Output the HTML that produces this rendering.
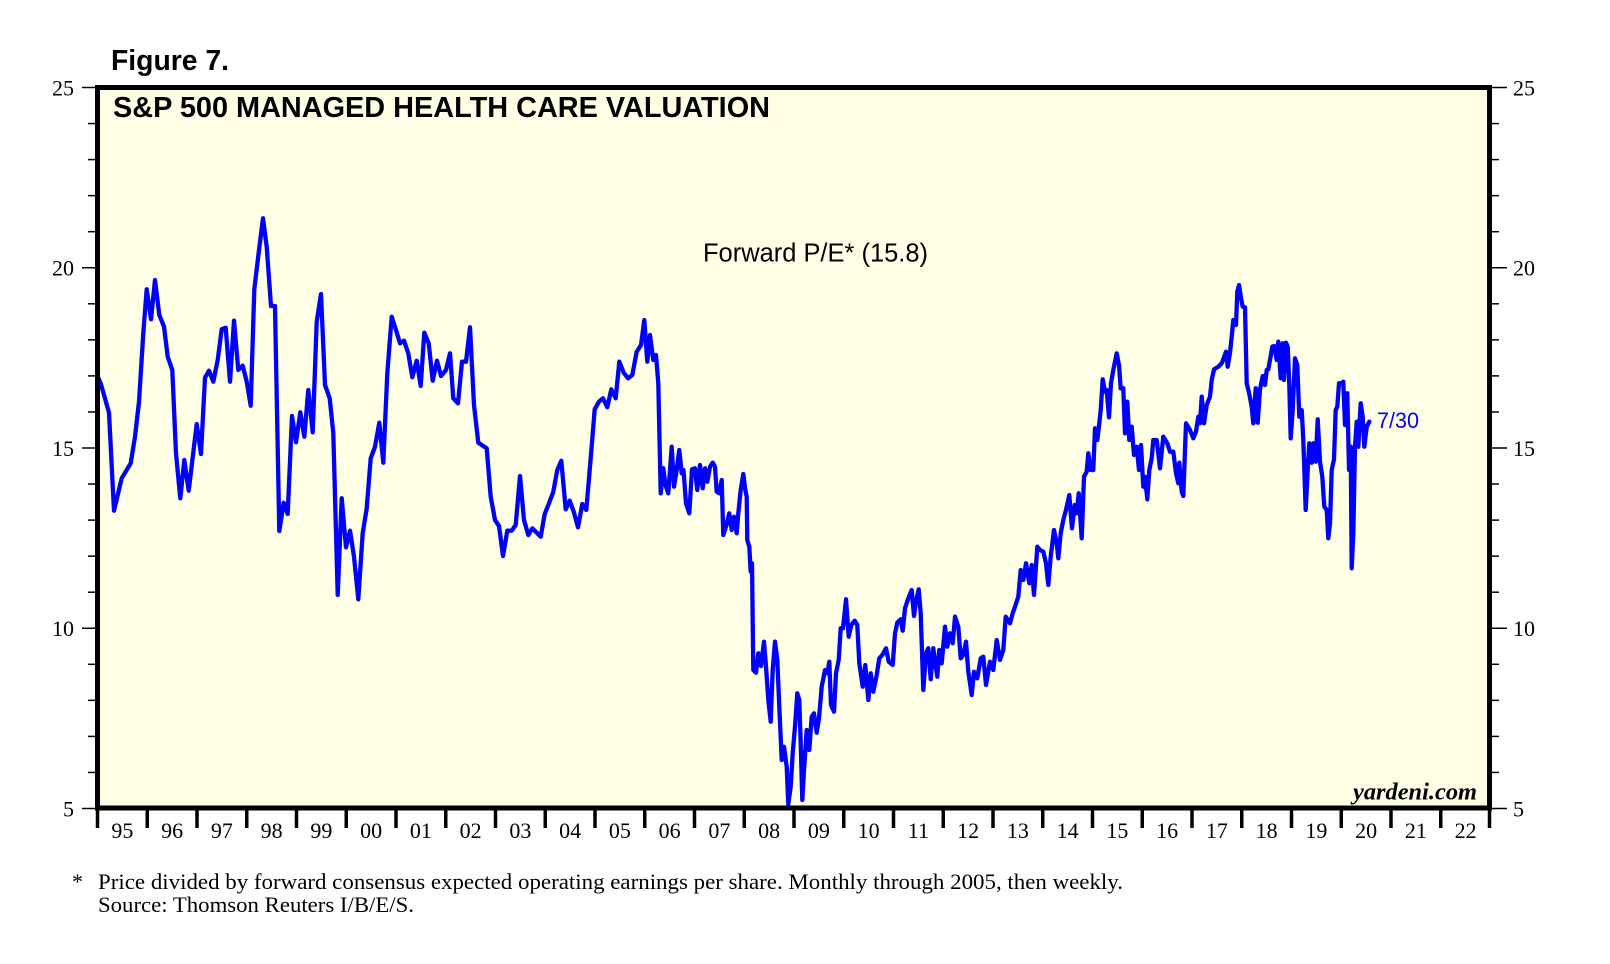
<!DOCTYPE html>
<html>
<head>
<meta charset="utf-8">
<style>
  html,body{margin:0;padding:0;background:#fff;}
  svg{display:block;}
  .ax{font-family:"Liberation Serif","Times New Roman",serif;font-size:22px;fill:#000;}
</style>
</head>
<body>
<svg width="1610" height="964" viewBox="0 0 1610 964" xmlns="http://www.w3.org/2000/svg">
  <rect x="0" y="0" width="1610" height="964" fill="#ffffff"/>
  <!-- Figure label -->
  <text x="111" y="70" font-family="Liberation Sans, Arial, sans-serif" font-weight="bold" font-size="29" textLength="118" lengthAdjust="spacingAndGlyphs">Figure 7.</text>

  <!-- plot background -->
  <rect x="97.5" y="87.5" width="1392" height="720.5" fill="#FFFFE6"/>

  <!-- title -->
  <text x="113" y="117" font-family="Liberation Sans, Arial, sans-serif" font-weight="bold" font-size="28.5" textLength="657" lengthAdjust="spacingAndGlyphs">S&amp;P 500 MANAGED HEALTH CARE VALUATION</text>

  <!-- Forward P/E label -->
  <text x="703" y="261.5" font-family="Liberation Sans, Arial, sans-serif" font-size="25.5" textLength="225" lengthAdjust="spacingAndGlyphs">Forward P/E* (15.8)</text>

  <!-- data line -->
  <polyline fill="none" stroke="#0000FF" stroke-width="4.3" stroke-linejoin="round" stroke-linecap="round" points="
97.5,376 101,384.3 109,412.7 114,510.7 121.7,478.3 130.7,463.3 135,436.7 139,401.7 143.3,333.3 146.7,289.3 151,319.3 155,280 159.3,315 164,326.7 167.7,356.7 172.3,370 176,453.3 180.3,498.3 184.3,460 188.7,490.7 196.7,424 201,454 205,377.7 209,370.7 213.3,381.7 217.7,360 221.7,329.3 225.7,327.7 230,381.7 234,320.7 238.3,370 242.7,365.7 246.7,381.7 250.7,405.7 254.3,289.3 259,250 263,218.3 266.7,246.7 271,306 275,306 279.3,531 283.7,502.7 287.7,514 292,416 296,442.3 300.3,412.3 304.3,436.7 308.3,390 312.7,432.3 316.7,321.7 321,294 325,385 329.7,398.3 333.3,433.3 337.7,595 341.7,498.3
346,547.3 350,530.7 354,556.7 358.3,599.3 362.7,533.3 366.7,508.3 370.7,458.3 375,446.7 379.3,422.7 383.3,462.7 387.3,373.3 391.7,316.7 396,330 400,343.3 404,340.7 408.3,353.3 412.3,377.3 416.7,360.7 420.7,386 424.3,332.7 428.7,343.3 432.7,380.7 437,360.7 441,376 446,370 450,353.3 453.3,398.3 458,403.3 462,361.7 466,361.7 470,327.3 474,405 478.3,442.7 486.7,448.3 490.7,496.7 495,520 499,526 503,556 507.3,530.7 511.7,530.7 515.7,525 520,476 524,520 528.3,535 532.3,528.3 540.7,536.7 544.7,514 549,503.3 553.3,491.7 557.3,470 561.3,460.7 565.7,509.3 569.7,500.7 574,512.7 578,527.3 582.3,504 586.3,510 590.7,458.3 594.7,409.3 599,401.7 603,398.3 607.3,407.3 611.3,389.3 615.7,398.3 619.3,361.7 623.7,372.7 628,378.3 632.3,375 636.7,351.7 641,345 644.3,320 647.3,361.7 650,335
653.3,360 656,355 658.3,383.3 660.7,493.3 663.3,468.3 665.5,485 668.3,493.3 671.7,446.7 674,486.7 676.7,470 679.3,450 681.7,473.3 683.5,470 686,503.3 689.3,513.3 692,469.3 695,468.3 697.3,490 700,465 702.7,488.3 705,468.3 707.3,481.7 710,466.7 712.7,462.7 715,466.7 716.7,491.7 719.3,493.3 721.7,480 723.3,535 726,526.7 729.3,513.3 731.7,530 734,516.7 736.7,533.3 738.3,513.3 740.7,490 743.3,474 745.3,490 746.7,496.7 747.3,540 749.3,546.7 750.7,571.7 752,563.3 753.3,670 756,672.7 758.3,653.3 761,666 764,641.7 766,666.7 768.3,700 770.7,721.7 772.7,670 775,641.7 777.3,660 779.3,706.7 781.7,760 784,746.7 786.7,766.7 788.3,804 790.7,786.7 792.7,753.3 795,726.7 797.3,693.3 799.3,700 800.7,743.3 802.3,800 804,770 806.7,730 809.3,750 811.7,716.7 814,713.3 816.7,732.7 819,718.3 821.7,686.7 825,670 827.3,673.3 829.3,661.7 831,705 834,711.7 836,673.3 838.7,660 840.7,628.3 843,628.3 846,599.3 848.7,636.7 851.3,625 854.7,620.7 857.3,625 859.3,663.3 862.7,686.7 865.3,665 868.3,700 870.7,673.3 873.3,691.7 876.7,675 879.3,658.3 882.3,655 886,648.3 888.7,661.7 892.7,665 895,633.3 897.3,622.7 900.7,619.3 902.7,630.7 905,608.3 908.3,598.3 911.7,590 914,616 916,601.7 918.7,589.3 920.7,613.3 923.3,690 926,653.3 928.3,648.3 930.7,679.3 933.3,648.3 937.3,676.7 939.3,650 941.7,663.3
945,626.7 947.3,646.7 950,633.3 952.7,643.3 955,616.7 958.3,626.7 960.7,658.3 963.3,655 966,641.7 968.3,671.7 971.7,695 974,671.7 977.3,678.3 980.7,658.3 983.3,656.7 986,685 990,661.7 993.3,670 996.7,640 1000,660 1003.3,650 1005.7,616.7 1010,623.3 1012.7,613.3 1015,606.7 1018.3,596.7 1020.7,570 1023.3,580 1026,563.3 1029.3,583.3 1031.7,565 1034,595 1037.3,546.7 1040,550 1043.3,551.7 1046,563.3 1048.3,585 1050.7,556.7 1054,530 1056.7,543.3 1058.3,558.3 1060.7,533.3 1063.3,520 1066,510 1069.3,495 1072,528.3 1074.7,505 1076.7,513.3 1078.7,493.3 1081.7,538.3 1084,476.7 1086.7,471.7 1088.3,453.3 1090.7,470 1093.3,470 1095,428.3 1097.3,440 1099.3,423.3 1100.7,410 1102.7,379.3 1105,391.7 1106.7,390 1109,417.3 1111,383.3 1113.3,370 1116.7,353.3 1119,365 1120.7,388.3 1123.3,388.3 1125,433.3 1127.3,401.7 1129.3,440 1131.7,426.7 1134,455 1136.7,446.7 1139,470 1141,445 1143.3,486.7 1145,476.7 1147.3,499.3 1149.3,470 1151.7,458.3 1153.3,440 1156.7,440
1160,468.3 1163.3,436.7 1167.3,443.3 1170,451.7 1173.3,451.7 1176,473.3 1178.3,483.3 1179.3,462.7 1181.7,491.7 1183.3,496 1186,423.3 1190,430 1193.3,438.3 1196,431.7 1198.3,416.7 1200,423.3 1201.7,396.7 1204,423.3 1206.7,405 1210,396.7 1211.7,380 1214,369.3 1218.3,366.7 1221.7,363.3 1224,357.3 1226,351.7 1227.7,366.7 1230,352.7 1231.7,336.7 1233.3,320 1236,325 1237.3,291.7 1239,285 1241,298.3 1242.7,306.7 1245,307.3 1246.7,383.3 1249.3,394 1251.7,406.7 1253.3,423.3 1255.7,388.3 1257.7,422.7 1260,389.3 1262.7,376 1265,385 1266.7,370 1268.3,369.3 1270,360 1272.3,346.7 1274.3,346 1276.7,360 1278.3,341.7 1280.7,378.3 1282.7,343.3 1284,380 1286,342.7 1287.7,346.7 1289.3,385 1290.7,438.3 1292.7,410 1295,358.3 1297.3,365 1299.3,416.7 1301.7,410 1303.3,440 1305.7,510 1307.7,470 1309.3,443.3 1311.7,462.7 1313.3,443.3 1315.7,461.7 1317.7,419.3 1320,461.7 1322.3,476.7 1324.3,506.7 1326.7,510 1328.3,538.3 1330,523.3 1331.7,470 1334,459.3 1335.7,410 1337.3,406.7 1339,383.3 1341.7,383.3 1343.3,381.7 1345,425 1347.3,393.3 1349,470 1350.7,446.7 1351.7,568.3 1353.3,533.3 1355,446.7 1356.7,421.7 1358.3,446.7 1360.7,403.3 1362.7,416.7 1364.3,446.7 1366.7,426.7 1369.3,421.7"/>

  <!-- 7/30 label -->
  <text x="1377" y="428" font-family="Liberation Sans, Arial, sans-serif" font-size="22" fill="#0000FF" textLength="42" lengthAdjust="spacingAndGlyphs">7/30</text>

  <!-- yardeni.com -->
  <text x="1353" y="799.5" font-family="Liberation Serif, Times New Roman, serif" font-style="italic" font-weight="bold" font-size="24" textLength="124" lengthAdjust="spacingAndGlyphs">yardeni.com</text>

  <!-- plot border -->
  <rect x="97.5" y="87.5" width="1392" height="720.5" fill="none" stroke="#000" stroke-width="5"/>

  <!-- left axis ticks -->
  <g stroke="#000" stroke-width="1.5">
    <line x1="82" y1="87.5" x2="97" y2="87.5"/>
    <line x1="88" y1="123.55" x2="97" y2="123.55"/>
    <line x1="88" y1="159.6" x2="97" y2="159.6"/>
    <line x1="88" y1="195.65" x2="97" y2="195.65"/>
    <line x1="88" y1="231.7" x2="97" y2="231.7"/>
    <line x1="82" y1="267.75" x2="97" y2="267.75"/>
    <line x1="88" y1="303.8" x2="97" y2="303.8"/>
    <line x1="88" y1="339.85" x2="97" y2="339.85"/>
    <line x1="88" y1="375.9" x2="97" y2="375.9"/>
    <line x1="88" y1="411.95" x2="97" y2="411.95"/>
    <line x1="82" y1="448" x2="97" y2="448"/>
    <line x1="88" y1="484.05" x2="97" y2="484.05"/>
    <line x1="88" y1="520.1" x2="97" y2="520.1"/>
    <line x1="88" y1="556.15" x2="97" y2="556.15"/>
    <line x1="88" y1="592.2" x2="97" y2="592.2"/>
    <line x1="82" y1="628.25" x2="97" y2="628.25"/>
    <line x1="88" y1="664.3" x2="97" y2="664.3"/>
    <line x1="88" y1="700.35" x2="97" y2="700.35"/>
    <line x1="88" y1="736.4" x2="97" y2="736.4"/>
    <line x1="88" y1="772.45" x2="97" y2="772.45"/>
    <line x1="82" y1="808.5" x2="97" y2="808.5"/>
  </g>
  <!-- right axis ticks -->
  <g stroke="#000" stroke-width="1.5">
    <line x1="1490" y1="87.5" x2="1507" y2="87.5"/>
    <line x1="1490" y1="123.55" x2="1499" y2="123.55"/>
    <line x1="1490" y1="159.6" x2="1499" y2="159.6"/>
    <line x1="1490" y1="195.65" x2="1499" y2="195.65"/>
    <line x1="1490" y1="231.7" x2="1499" y2="231.7"/>
    <line x1="1490" y1="267.75" x2="1507" y2="267.75"/>
    <line x1="1490" y1="303.8" x2="1499" y2="303.8"/>
    <line x1="1490" y1="339.85" x2="1499" y2="339.85"/>
    <line x1="1490" y1="375.9" x2="1499" y2="375.9"/>
    <line x1="1490" y1="411.95" x2="1499" y2="411.95"/>
    <line x1="1490" y1="448" x2="1507" y2="448"/>
    <line x1="1490" y1="484.05" x2="1499" y2="484.05"/>
    <line x1="1490" y1="520.1" x2="1499" y2="520.1"/>
    <line x1="1490" y1="556.15" x2="1499" y2="556.15"/>
    <line x1="1490" y1="592.2" x2="1499" y2="592.2"/>
    <line x1="1490" y1="628.25" x2="1507" y2="628.25"/>
    <line x1="1490" y1="664.3" x2="1499" y2="664.3"/>
    <line x1="1490" y1="700.35" x2="1499" y2="700.35"/>
    <line x1="1490" y1="736.4" x2="1499" y2="736.4"/>
    <line x1="1490" y1="772.45" x2="1499" y2="772.45"/>
    <line x1="1490" y1="808.5" x2="1507" y2="808.5"/>
  </g>

  <!-- y labels -->
  <g class="ax" text-anchor="end">
    <text x="74" y="95.5">25</text>
    <text x="74" y="275.5">20</text>
    <text x="74" y="456">15</text>
    <text x="74" y="636">10</text>
    <text x="74" y="816.5">5</text>
  </g>
  <g class="ax" text-anchor="start">
    <text x="1513" y="95.5">25</text>
    <text x="1513" y="275.5">20</text>
    <text x="1513" y="456">15</text>
    <text x="1513" y="636">10</text>
    <text x="1513" y="816.5">5</text>
  </g>

  <!-- x year ticks -->
  <g stroke="#000" stroke-width="3.5">
    <line x1="97.5" y1="808" x2="97.5" y2="828"/>
    <line x1="147.25" y1="808" x2="147.25" y2="828"/>
    <line x1="197" y1="808" x2="197" y2="828"/>
    <line x1="246.75" y1="808" x2="246.75" y2="828"/>
    <line x1="296.5" y1="808" x2="296.5" y2="828"/>
    <line x1="346.25" y1="808" x2="346.25" y2="828"/>
    <line x1="396" y1="808" x2="396" y2="828"/>
    <line x1="445.75" y1="808" x2="445.75" y2="828"/>
    <line x1="495.5" y1="808" x2="495.5" y2="828"/>
    <line x1="545.25" y1="808" x2="545.25" y2="828"/>
    <line x1="595" y1="808" x2="595" y2="828"/>
    <line x1="644.75" y1="808" x2="644.75" y2="828"/>
    <line x1="694.5" y1="808" x2="694.5" y2="828"/>
    <line x1="744.25" y1="808" x2="744.25" y2="828"/>
    <line x1="794" y1="808" x2="794" y2="828"/>
    <line x1="843.75" y1="808" x2="843.75" y2="828"/>
    <line x1="893.5" y1="808" x2="893.5" y2="828"/>
    <line x1="943.25" y1="808" x2="943.25" y2="828"/>
    <line x1="993" y1="808" x2="993" y2="828"/>
    <line x1="1042.75" y1="808" x2="1042.75" y2="828"/>
    <line x1="1092.5" y1="808" x2="1092.5" y2="828"/>
    <line x1="1142.25" y1="808" x2="1142.25" y2="828"/>
    <line x1="1192" y1="808" x2="1192" y2="828"/>
    <line x1="1241.75" y1="808" x2="1241.75" y2="828"/>
    <line x1="1291.5" y1="808" x2="1291.5" y2="828"/>
    <line x1="1341.25" y1="808" x2="1341.25" y2="828"/>
    <line x1="1391" y1="808" x2="1391" y2="828"/>
    <line x1="1440.75" y1="808" x2="1440.75" y2="828"/>
    <line x1="1489.5" y1="808" x2="1489.5" y2="828"/>
  </g>

  <!-- x labels -->
  <g class="ax" text-anchor="middle">
    <text x="122.4" y="838">95</text>
    <text x="172.1" y="838">96</text>
    <text x="221.9" y="838">97</text>
    <text x="271.6" y="838">98</text>
    <text x="321.4" y="838">99</text>
    <text x="371.1" y="838">00</text>
    <text x="420.9" y="838">01</text>
    <text x="470.6" y="838">02</text>
    <text x="520.4" y="838">03</text>
    <text x="570.1" y="838">04</text>
    <text x="619.9" y="838">05</text>
    <text x="669.6" y="838">06</text>
    <text x="719.4" y="838">07</text>
    <text x="769.1" y="838">08</text>
    <text x="818.9" y="838">09</text>
    <text x="868.6" y="838">10</text>
    <text x="918.4" y="838">11</text>
    <text x="968.1" y="838">12</text>
    <text x="1017.9" y="838">13</text>
    <text x="1067.6" y="838">14</text>
    <text x="1117.4" y="838">15</text>
    <text x="1167.1" y="838">16</text>
    <text x="1216.9" y="838">17</text>
    <text x="1266.6" y="838">18</text>
    <text x="1316.4" y="838">19</text>
    <text x="1366.1" y="838">20</text>
    <text x="1415.9" y="838">21</text>
    <text x="1465.6" y="838">22</text>
  </g>

  <!-- footnote -->
  <g class="ax">
    <text x="72" y="889">*</text>
    <text x="98" y="889" textLength="1025" lengthAdjust="spacingAndGlyphs">Price divided by forward consensus expected operating earnings per share. Monthly through 2005, then weekly.</text>
    <text x="98" y="912" textLength="316" lengthAdjust="spacingAndGlyphs">Source: Thomson Reuters I/B/E/S.</text>
  </g>
</svg>
</body>
</html>
